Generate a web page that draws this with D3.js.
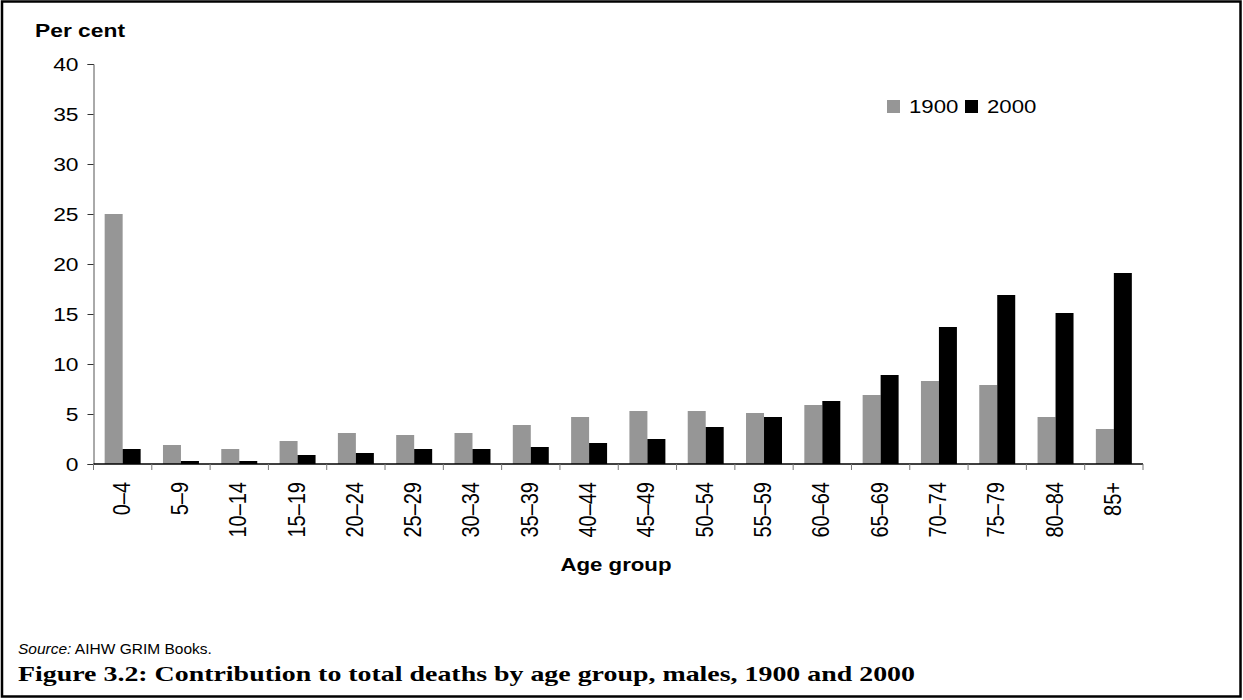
<!DOCTYPE html>
<html><head><meta charset="utf-8">
<script src="https://cdn.jsdelivr.net/npm/d3@7"></script>
<style>body{margin:0;background:#fff}svg{display:block}</style>
</head><body>
<svg id="chart" width="1243" height="700"></svg>
<script>
const categories = ["0–4","5–9","10–14","15–19","20–24","25–29","30–34","35–39","40–44","45–49","50–54","55–59","60–64","65–69","70–74","75–79","80–84","85+"];
const series = ["1900","2000"];
const values1900 = [25.0,1.9,1.5,2.3,3.1,2.9,3.1,3.9,4.7,5.3,5.3,5.1,5.9,6.9,8.3,7.9,4.7,3.5];
const values2000 = [1.5,0.3,0.3,0.9,1.1,1.5,1.5,1.7,2.1,2.5,3.7,4.7,6.3,8.9,13.7,16.9,15.1,19.1];
const yTicks = [0,5,10,15,20,25,30,35,40];
const colors = ["#969696","#000000"];

const svg = d3.select("#chart");
const SX = 1.2; // horizontal stretch of chart text in reference
function stretch(sel){
  sel.each(function(){
    const w = this.getComputedTextLength();
    d3.select(this).attr("textLength", w*SX).attr("lengthAdjust","spacingAndGlyphs");
  });
}

svg.append("rect").attr("x",2).attr("y",1.5).attr("width",1238.5).attr("height",695)
  .attr("fill","#fff").attr("stroke","#000").attr("stroke-width",2.5);

const mLeft = 93.5, mRight = 1143, mTop = 64, mBottom = 464;
const x = d3.scaleBand().domain(categories).range([mLeft, mRight]).paddingInner(0.383).paddingOuter(0.1915);
const xs = d3.scaleBand().domain(series).range([0, x.bandwidth()]);
const y = d3.scaleLinear().domain([0,40]).range([mBottom, mTop]);

const data = categories.map((c,i)=>({cat:c, vals:[values1900[i], values2000[i]]}));
const g = svg.append("g");
g.selectAll("g.grp").data(data).join("g").attr("class","grp")
  .attr("transform", d=>`translate(${x(d.cat)},0)`)
  .selectAll("rect").data(d=>d.vals.map((v,j)=>({s:series[j], v, j})))
  .join("rect")
  .attr("x", d=>xs(d.s)).attr("width", xs.bandwidth())
  .attr("y", d=>y(d.v)).attr("height", d=>mBottom - y(d.v))
  .attr("fill", d=>colors[d.j]);

// Y axis
const yAxis = svg.append("g").attr("transform",`translate(${mLeft},0)`)
  .call(d3.axisLeft(y).tickValues(yTicks).tickSize(6).tickPadding(9));
yAxis.select(".domain").attr("stroke","#555");
yAxis.selectAll(".tick line").attr("stroke","#333");
yAxis.selectAll("text").attr("font-family","Liberation Sans, Arial").attr("font-size",19).attr("fill","#000").call(stretch);

// X axis
const xAxis = svg.append("g").attr("transform",`translate(0,${mBottom})`);
xAxis.append("line").attr("x1",mLeft).attr("x2",mRight).attr("y1",0).attr("y2",0).attr("stroke","#000").attr("stroke-width",1.5);
const bounds = categories.map(c=>x(c) - x.step()*x.paddingOuter()).concat([mRight]);
xAxis.selectAll("line.tk").data(bounds).join("line").attr("class","tk")
  .attr("x1",d=>d).attr("x2",d=>d).attr("y1",0).attr("y2",6).attr("stroke","#777");
xAxis.selectAll("text.lbl").data(categories).join("text").attr("class","lbl")
  .attr("transform", d=>`translate(${x(d)+x.bandwidth()/2+7},18) scale(${SX},1) rotate(-90)`)
  .attr("text-anchor","end")
  .attr("font-family","Liberation Sans, Arial").attr("font-size",20)
  .text(d=>d);

// Titles
svg.append("text").attr("x",35).attr("y",37).attr("font-family","Liberation Sans, Arial")
  .attr("font-weight","bold").attr("font-size",19).text("Per cent").call(stretch);
svg.append("text").attr("x",616).attr("y",571).attr("text-anchor","middle")
  .attr("font-family","Liberation Sans, Arial").attr("font-weight","bold").attr("font-size",18.5)
  .text("Age group").call(stretch);

// Legend
const legend = svg.append("g").attr("transform","translate(887,100)");
const li = legend.selectAll("g").data(series).join("g").attr("transform",(d,i)=>`translate(${i*78},0)`);
li.append("rect").attr("width",13).attr("height",13).attr("fill",(d,i)=>colors[i]);
li.append("text").attr("x",22).attr("y",13).attr("font-family","Liberation Sans, Arial")
  .attr("font-size",18.5).text(d=>d).call(stretch);

// Source
const src = svg.append("text").attr("x",18).attr("y",654).attr("font-family","Liberation Sans, Arial").attr("font-size",15.5);
src.append("tspan").attr("font-style","italic").text("Source:");
src.append("tspan").text(" AIHW GRIM Books.");

// Figure caption
svg.append("text").attr("x",18).attr("y",681).attr("font-family","Liberation Serif, serif")
  .attr("font-weight","bold").attr("font-size",21)
  .text("Figure 3.2: Contribution to total deaths by age group, males, 1900 and 2000")
  .attr("textLength",897).attr("lengthAdjust","spacingAndGlyphs");
</script>
</body></html>
